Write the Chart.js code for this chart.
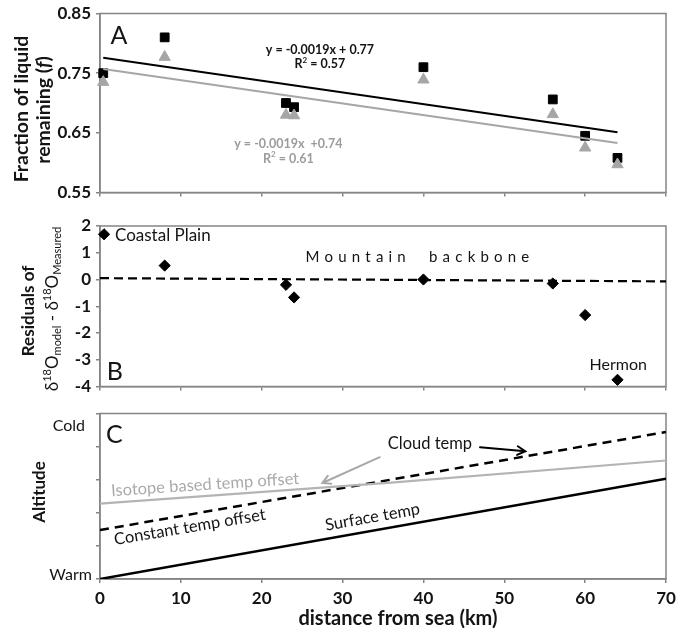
<!DOCTYPE html>
<html>
<head>
<meta charset="utf-8">
<script src="https://cdn.jsdelivr.net/npm/chart.js@4.4.1/dist/chart.umd.min.js"></script>
<style>
  body { margin: 0; background: #fff; width: 692px; height: 633px; position: relative; overflow: hidden; }
  canvas { position: absolute; left: 0; }
</style>
</head>
<body>
<canvas id="chartA" width="692" height="206" style="top:0"></canvas>
<canvas id="chartB" width="692" height="194" style="top:206px"></canvas>
<canvas id="chartC" width="692" height="233" style="top:400px"></canvas>
<script>
// distance from sea (km)
const xTicks = [0, 10, 20, 30, 40, 50, 60, 70]

// panel A - fraction of liquid remaining
const stationDist = [0.4, 8, 23, 24, 40, 56, 60, 64]
const fractionSquares = [0.75, 0.81, 0.70, 0.693, 0.76, 0.706, 0.645, 0.608]
const fractionTriangles = [0.735, 0.777, 0.68, 0.679, 0.739, 0.681, 0.625, 0.597]
const trendDist = [0.4, 64]
const trendSquares = [0.776, 0.651]
const trendTriangles = [0.757, 0.633]
const ticksA = [0.55, 0.65, 0.75, 0.85]

// panel B - residuals
const residualDist = [0.5, 8, 23, 24, 40, 56, 60, 64]
const residuals = [1.69, 0.52, -0.2, -0.67, 0.0, -0.15, -1.33, -3.75]
const zeroDist = [0, 70]
const zeroFit = [0.05, -0.07]
const ticksB = [2, 1, 0, -1, -2, -3, -4]

// panel C - schematic temperature profiles
const profileDist = [0, 70]
const surfaceTemp = [0, 3.03]
const cloudTemp = [1.48, 4.44]
const isotopeDist = [0, 36, 70]
const isotopeTemp = [2.28, 2.91, 3.58]
const ticksC = [0, 1, 2, 3, 4, 5]

const FRAME = '#858585'
const GREY = '#a6a6a6'
const INK = '#141414'
const FAM = 'Lato, "Open Sans", sans-serif'
const f = (size, weight, style) => `${style || ''} ${weight || 'normal'} ${size}px ${FAM}`

const pts = (xs, ys) => xs.map((x, i) => ({ x, y: ys[i] }))

function xScale (labels, height) {
  return {
    type: 'linear',
    min: 0,
    max: 70,
    afterBuildTicks: s => { s.ticks = xTicks.map(v => ({ value: v })) },
    afterFit: s => { s.height = height },
    grid: { drawOnChartArea: false, tickLength: 4, color: FRAME, lineWidth: 1.5 },
    border: { color: FRAME, width: 1.5 },
    ticks: { display: labels, padding: 5, color: INK, font: { family: FAM, size: 17, weight: 'bold' } }
  }
}

function yScale (min, max, ticks, fmt) {
  return {
    min,
    max,
    afterBuildTicks: s => { s.ticks = ticks.map(v => ({ value: v })) },
    afterFit: s => { s.width = 100 },
    grid: { drawOnChartArea: false, tickLength: 4, color: FRAME, lineWidth: 1.5 },
    border: { color: FRAME, width: 1.5 },
    ticks: { padding: 5, color: INK, font: { family: FAM, size: 17, weight: 'bold', lineHeight: 1 }, callback: fmt }
  }
}

// frame round the plot area
const frame = {
  id: 'frame',
  beforeDatasetsDraw (chart) {
    const { ctx, chartArea: a } = chart
    ctx.save()
    ctx.strokeStyle = FRAME
    ctx.lineWidth = 1.5
    ctx.strokeRect(a.left, a.top, a.right - a.left, a.bottom - a.top)
    ctx.restore()
  }
}

// text and arrows, placed in data units (or px for axis titles)
function notes (items) {
  return {
    id: 'notes',
    afterDraw (chart) {
      const { ctx, scales: { x, y } } = chart
      items.forEach(n => {
        ctx.save()
        if (n.arrow) {
          const x1 = x.getPixelForValue(n.arrow[0]); const y1 = y.getPixelForValue(n.arrow[1])
          const x2 = x.getPixelForValue(n.arrow[2]); const y2 = y.getPixelForValue(n.arrow[3])
          const ang = Math.atan2(y2 - y1, x2 - x1)
          ctx.strokeStyle = n.color
          ctx.lineWidth = n.width
          ctx.lineCap = 'round'
          ctx.beginPath()
          ctx.moveTo(x1, y1)
          ctx.lineTo(x2, y2)
          ctx.moveTo(x2 - 9 * Math.cos(ang - 0.5), y2 - 9 * Math.sin(ang - 0.5))
          ctx.lineTo(x2, y2)
          ctx.lineTo(x2 - 9 * Math.cos(ang + 0.5), y2 - 9 * Math.sin(ang + 0.5))
          ctx.stroke()
          ctx.restore()
          return
        }
        const px = n.px !== undefined ? n.px : x.getPixelForValue(n.x)
        const py = n.py !== undefined ? n.py : y.getPixelForValue(n.y)
        ctx.translate(px, py)
        ctx.rotate((n.angle || 0) * Math.PI / 180)
        ctx.fillStyle = n.color || INK
        ctx.textBaseline = 'middle'
        const parts = n.parts || [{ t: n.text, font: n.font }]
        const gap = n.spacing || 0
        let total = 0
        parts.forEach(p => {
          ctx.font = p.font
          p.w = gap ? [...p.t].reduce((s, c) => s + ctx.measureText(c).width + gap, 0) - gap : ctx.measureText(p.t).width
          total += p.w
        })
        let cx = n.align === 'left' ? 0 : n.align === 'right' ? -total : -total / 2
        ctx.textAlign = 'left'
        parts.forEach(p => {
          ctx.font = p.font
          if (gap) {
            let c0 = cx
            ;[...p.t].forEach(c => { ctx.fillText(c, c0, p.dy || 0); c0 += ctx.measureText(c).width + gap })
          } else {
            ctx.fillText(p.t, cx, p.dy || 0)
          }
          cx += p.w
        })
        ctx.restore()
      })
    }
  }
}

const base = {
  responsive: false,
  animation: false,
  events: [],
  plugins: { legend: { display: false }, tooltip: { enabled: false } }
}

new Chart(document.getElementById('chartA'), {
  type: 'scatter',
  data: {
    datasets: [
      { type: 'line', data: pts(trendDist, trendTriangles), borderColor: GREY, borderWidth: 2.2, pointRadius: 0 },
      { type: 'line', data: pts(trendDist, trendSquares), borderColor: '#000', borderWidth: 2, pointRadius: 0 },
      { data: pts(stationDist, fractionTriangles), pointStyle: 'triangle', pointRadius: 6.5, backgroundColor: GREY, borderColor: GREY, borderWidth: 1, clip: false },
      { data: pts(stationDist, fractionSquares), pointStyle: 'rect', pointRadius: 6.2, backgroundColor: '#000', borderColor: '#000', borderWidth: 1, clip: false }
    ]
  },
  options: {
    ...base,
    layout: { autoPadding: false, padding: { top: 12, right: 26, left: 0, bottom: 0 } },
    scales: {
      x: xScale(false, 8),
      y: yScale(0.55, 0.85, ticksA, v => v.toFixed(2))
    }
  },
  plugins: [frame, notes([
    { text: 'A', x: 1.3, y: 0.812, font: f(25), align: 'left' },
    { text: 'y = -0.0019x + 0.77', x: 27.2, y: 0.789, font: f(12.5, 'bold') },
    { parts: [{ t: 'R', font: f(12.5, 'bold') }, { t: '2', font: f(8, 'bold'), dy: -4 }, { t: ' = 0.57', font: f(12.5, 'bold') }], x: 27.2, y: 0.765 },
    { text: 'y = -0.0019x  +0.74', x: 23.3, y: 0.632, font: f(12.5, 'bold'), color: '#9c9c9c' },
    { parts: [{ t: 'R', font: f(12.5, 'bold') }, { t: '2', font: f(8, 'bold'), dy: -4 }, { t: ' = 0.61', font: f(12.5, 'bold') }], x: 23.3, y: 0.607, color: '#9c9c9c' },
    { text: 'Fraction of liquid', px: 22, py: 109, angle: -90, font: f(19.5, 'bold') },
    { parts: [{ t: 'remaining (', font: f(19.5, 'bold') }, { t: 'f', font: f(19.5, 'bold', 'italic') }, { t: ')', font: f(19.5, 'bold') }], px: 44, py: 110, angle: -90 }
  ])]
})

new Chart(document.getElementById('chartB'), {
  type: 'scatter',
  data: {
    datasets: [
      { type: 'line', data: pts(zeroDist, zeroFit), borderColor: '#000', borderWidth: 2.2, borderDash: [9, 5], pointRadius: 0 },
      { data: pts(residualDist, residuals), pointStyle: 'rectRot', pointRadius: 5.6, backgroundColor: '#000', borderColor: '#000', borderWidth: 1, clip: false }
    ]
  },
  options: {
    ...base,
    layout: { autoPadding: false, padding: { top: 20, right: 26, left: 0, bottom: 0 } },
    scales: {
      x: xScale(false, 8),
      y: yScale(-4, 2, ticksB, v => String(v))
    }
  },
  plugins: [frame, notes([
    { text: 'Coastal Plain', x: 1.85, y: 1.66, font: f(17), align: 'left' },
    { text: 'Mountain  backbone', x: 25.4, y: 0.83, font: f(15), align: 'left', spacing: 5.2 },
    { text: 'Hermon', x: 64.1, y: -3.18, font: f(16) },
    { text: 'B', x: 0.85, y: -3.47, font: f(25), align: 'left' },
    { text: 'Residuals of', px: 29, py: 105, angle: -90, font: f(17, 'bold') },
    {
      parts: [
        { t: 'δ', font: f(17) }, { t: '18', font: f(11), dy: -6 }, { t: 'O', font: f(17) }, { t: 'model', font: f(11), dy: 4 },
        { t: ' - ', font: f(17) },
        { t: 'δ', font: f(17) }, { t: '18', font: f(11), dy: -6 }, { t: 'O', font: f(17) }, { t: 'Measured', font: f(11), dy: 4 }
      ],
      px: 53,
      py: 103,
      angle: -90
    }
  ])]
})

new Chart(document.getElementById('chartC'), {
  type: 'scatter',
  data: {
    datasets: [
      { type: 'line', data: pts(isotopeDist, isotopeTemp), borderColor: '#b4b4b4', borderWidth: 2.2, pointRadius: 0 },
      { type: 'line', data: pts(profileDist, cloudTemp), borderColor: '#000', borderWidth: 2.5, borderDash: [9, 6], pointRadius: 0 },
      { type: 'line', data: pts(profileDist, surfaceTemp), borderColor: '#000', borderWidth: 2.5, pointRadius: 0 }
    ]
  },
  options: {
    ...base,
    layout: { autoPadding: false, padding: { top: 13, right: 26, left: 0, bottom: 0 } },
    scales: {
      x: xScale(true, 54),
      y: yScale(0, 5, ticksC, () => '')
    }
  },
  plugins: [frame, notes([
    { text: 'C', x: 0.75, y: 4.34, font: f(25), align: 'left' },
    { text: 'Cold', x: -1.85, y: 4.64, font: f(16), align: 'right' },
    { text: 'Warm', x: -1.0, y: 0.14, font: f(16), align: 'right' },
    { text: 'Isotope based temp offset', x: 13.0, y: 2.85, angle: -3.8, font: f(16.5), color: '#aaaaaa' },
    { text: 'Constant temp offset', x: 11.1, y: 1.57, angle: -9.5, font: f(16.5) },
    { text: 'Surface temp', x: 33.7, y: 1.87, angle: -10, font: f(16.5) },
    { text: 'Cloud temp', x: 40.8, y: 4.09, font: f(16.5) },
    { arrow: [47.0, 3.98, 52.6, 3.86], color: '#000', width: 2 },
    { arrow: [34.6, 3.68, 27.5, 2.9], color: '#a8a8a8', width: 2 },
    { text: 'Altitude', px: 40, py: 92, angle: -90, font: f(17, 'bold') },
    { text: 'distance from sea (km)', x: 36.85, py: 219, font: f(20, 'bold') }
  ])]
})
</script>
</body>
</html>
